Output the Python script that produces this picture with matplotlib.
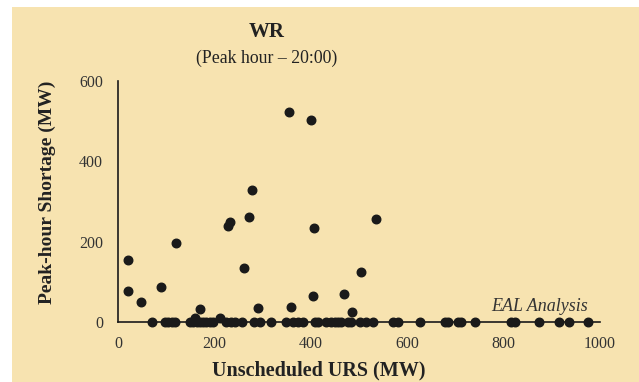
import numpy as np
import matplotlib
matplotlib.use('Agg')
import matplotlib.pyplot as plt
from matplotlib.patches import Rectangle

plt.rcParams['font.family'] = ['Liberation Serif', 'DejaVu Serif']

# Points with a shortage above zero
urs_pos = [21, 20, 47, 88, 120, 159, 169, 212, 227, 232, 261, 272, 277, 290,
           355, 359, 400, 407, 405, 469, 486, 503, 536]
short_pos = [155, 77, 50, 88, 198, 11, 33, 11, 239, 249, 134, 262, 329, 35,
             523, 37, 502, 235, 65, 70, 26, 126, 257]

# Points with zero shortage
urs_zero = [69, 97, 104, 111, 118, 149, 156, 163, 170, 176, 183, 190, 197, 223,
            234, 242, 256, 282, 294, 317, 349, 363, 373, 383, 408, 415, 432,
            442, 449, 456, 463, 477, 484, 501, 515, 529, 570, 581, 626, 678,
            685, 705, 712, 740, 816, 823, 873, 914, 935, 975]
short_zero = [0] * len(urs_zero)

urs = np.array(urs_pos + urs_zero)
shortage = np.array(short_pos + short_zero)

bg = '#F7E3B0'
fig = plt.figure(figsize=(6.39, 3.82), dpi=100, facecolor='white')
fig.patches.append(Rectangle((12 / 639, 0), 1, 1 - 7 / 382, transform=fig.transFigure,
                             facecolor=bg, edgecolor='none', zorder=-1))

ax = fig.add_axes([118.3 / 639, 1 - 322.3 / 382, (600 - 118.3) / 639, (322.3 - 80.7) / 382])
ax.patch.set_alpha(0)
ax.scatter(urs, shortage, s=38, color='#1a1a1a', zorder=3, clip_on=False)

ax.set_xlim(0, 1000)
ax.set_ylim(0, 600)
ax.set_xticks([0, 200, 400, 600, 800, 1000])
ax.set_yticks([0, 200, 400, 600])
ax.tick_params(length=0, labelsize=11.5, labelcolor='#333333')
ax.tick_params(axis='y', pad=11)
ax.tick_params(axis='x', pad=10)
for s in ['top', 'right']:
    ax.spines[s].set_visible(False)
for s in ['left', 'bottom']:
    ax.spines[s].set_color('#1a1a1a')
    ax.spines[s].set_linewidth(1.2)

ax.text(975, 38, 'EAL Analysis', ha='right', va='center', style='italic',
        fontsize=13, color='#333333')

fig.text(267 / 639, 1 - 32 / 382, 'WR', ha='center', va='center',
         fontsize=15, fontweight='bold', color='#222222')
fig.text(267 / 639, 1 - 58 / 382, '(Peak hour \u2013 20:00)', ha='center', va='center',
         fontsize=12.8, color='#222222')
fig.text(47 / 639, 1 - 192 / 382, 'Peak-hour Shortage (MW)', ha='center', va='center',
         rotation=90, fontsize=14, fontweight='bold', color='#222222')
fig.text(319 / 639, 1 - 370 / 382, 'Unscheduled URS (MW)', ha='center', va='center',
         fontsize=14.5, fontweight='bold', color='#222222')

fig.savefig('out.png', dpi=100, facecolor='white')
